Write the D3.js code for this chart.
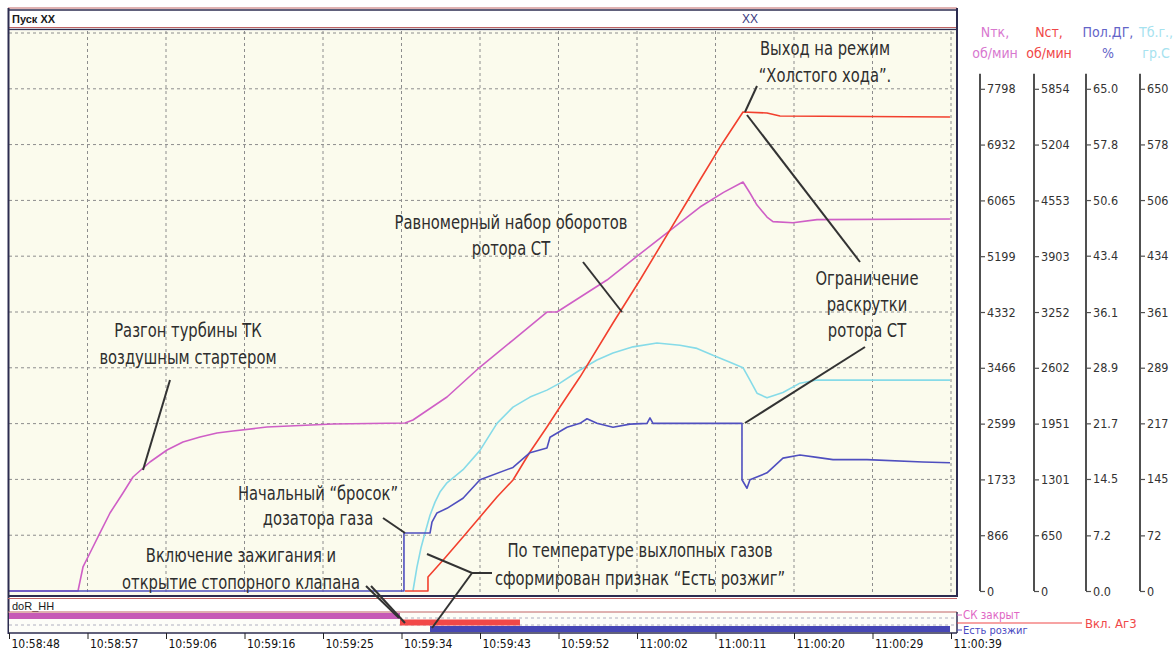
<!DOCTYPE html>
<html><head><meta charset="utf-8">
<script src="https://cdn.jsdelivr.net/npm/d3@7"></script>
<style>
body{margin:0;background:#fff;}
svg{display:block;}
.ann{font-family:"DejaVu Sans Condensed","Liberation Sans Narrow",sans-serif;font-size:20px;fill:#2e2e2e;}
.nar{font-family:"DejaVu Sans Condensed","Liberation Sans Narrow",sans-serif;}
</style></head><body><svg id="c" width="1175" height="651"></svg>
<script>
// ---------- DATA ----------
const timeLabels = ["10:58:48","10:58:57","10:59:06","10:59:16","10:59:25","10:59:34","10:59:43","10:59:52","11:00:02","11:00:11","11:00:20","11:00:29","11:00:39"];
const tMax = 111; // seconds shown

const ntkTicks = [0,866,1733,2599,3466,4332,5199,6065,6932,7798];
const nstTicks = [0,650,1301,1951,2602,3252,3903,4553,5204,5854];
const polTicks = [0,7.2,14.5,21.7,28.9,36.1,43.4,50.6,57.8,65.0];
const tbgTicks = [0,72,145,217,289,361,434,506,578,650];

// Nтк, об/мин (magenta)
const ntkTime  = [0,8.13,8.72,9.54,10.72,11.90,13.43,14.61,16.61,18.62,20.50,22.51,24.51,26.39,30.40,38.18,46.66,47.60,51.61,55.50,59.39,63.39,64.57,70.46,75.53,81.42,84.20,86.49,87.31,88.14,89.32,90.02,92.38,95.21,110.88];
const ntkValues= [0,0,373,590,901,1211,1522,1770,2003,2189,2314,2391,2453,2484,2546,2593,2608,2655,3012,3478,3897,4332,4332,4829,5357,5962,6190,6351,6180,5993,5807,5735,5719,5766,5776];

// Nст, об/мин (red)
const nstTime  = [46.66,49.37,49.37,51.37,53.50,55.50,57.50,59.39,61.39,63.39,64.92,67.28,71.17,74.35,81.42,83.78,86.49,89.32,90.85,110.88];
const nstValues= [0,0,163,385,629,863,1096,1294,1620,1912,2145,2494,3124,3625,4791,5175,5583,5572,5537,5525];

// Пол.ДГ, % (blue)
const polTime  = [0,46.54,46.54,49.61,49.84,50.43,51.61,53.50,55.50,59.39,61.39,63.39,63.75,65.75,67.28,68.11,69.28,71.17,73.17,75.18,75.53,75.88,86.37,86.37,86.96,87.31,89.32,91.20,93.20,95.21,97.09,101.10,107.70,110.88];
const polValues= [0,0,7.5,7.5,8.9,10.1,10.7,12.0,14.4,16.0,17.9,18.5,19.9,21.2,21.7,22.3,21.7,21.2,21.6,21.7,22.4,21.7,21.7,14.4,13.3,14.4,15.3,17.2,17.6,17.3,17.0,17.0,16.7,16.6];

// Тб.г., гр.С (cyan)
const tbgTime  = [47.60,48.07,48.55,49.02,49.61,50.20,50.78,51.61,53.50,55.50,57.50,59.39,61.39,63.39,64.92,67.28,69.28,71.17,73.53,76.35,79.06,81.07,82.95,84.96,86.49,87.31,88.14,89.32,91.20,93.20,95.21,110.88];
const tbgValues= [0,31,56,75,98,115,128,140,157,182,217,238,251,260,269,286,299,308,316,321,318,314,305,296,289,273,256,250,257,269,273,273];

// discrete signals (start, end in seconds)
const skClosed  = [0, 46.07];      // СК закрыт
const ag3On     = [46.07, 60.21];  // Вкл. Аг3
const ignition  = [49.61, 110.88]; // Есть розжиг

// ---------- DRAW ----------
const svg = d3.select("#c");
const x = d3.scaleLinear().domain([0, tMax]).range([9, 951]);
const yR = [591, 33];
const yNtk = d3.scaleLinear().domain([0, ntkTicks[9]*10/9]).range(yR);
const yNst = d3.scaleLinear().domain([0, nstTicks[9]*10/9]).range(yR);
const yPol = d3.scaleLinear().domain([0, polTicks[9]*10/9]).range(yR);
const yTbg = d3.scaleLinear().domain([0, tbgTicks[9]*10/9]).range(yR);
const xTicks = d3.range(timeLabels.length).map(i => i*tMax/(timeLabels.length-1));

const navy = "#2c2c50", rline = "#c06464";

// header
svg.append("rect").attr("x",8).attr("y",9).attr("width",949).attr("height",20).attr("fill","#fff");
svg.append("line").attr("x1",8).attr("x2",957).attr("y1",8).attr("y2",8).attr("stroke",rline).attr("stroke-width",1);
svg.append("line").attr("x1",8).attr("x2",957).attr("y1",10).attr("y2",10).attr("stroke",navy).attr("stroke-width",1.5);
svg.append("line").attr("x1",8).attr("x2",957).attr("y1",27.5).attr("y2",27.5).attr("stroke",rline).attr("stroke-width",1);
svg.append("line").attr("x1",8).attr("x2",957).attr("y1",29.5).attr("y2",29.5).attr("stroke",navy).attr("stroke-width",1.5);
svg.append("text").attr("x",12).attr("y",23).attr("font-family","Liberation Sans, Arial, sans-serif")
  .attr("font-size",11).attr("font-weight","bold").attr("fill","#1a1a1a").text("Пуск XX");
svg.append("text").attr("x",742).attr("y",23).attr("font-family","Liberation Sans, Arial, sans-serif")
  .attr("font-size",12).attr("fill","#3a3a80").text("XX");

// plot background
svg.append("rect").attr("x",9).attr("y",30.5).attr("width",948).attr("height",565).attr("fill","#fbfbed");

// grid
const grid = svg.append("g").attr("stroke","#8d8d8d").attr("stroke-width",1).attr("stroke-dasharray","3,3");
xTicks.slice(1).forEach(t => grid.append("line").attr("x1",x(t)).attr("x2",x(t)).attr("y1",31).attr("y2",593));
const hg = ntkTicks.slice(1).concat([ntkTicks[9]*10/9]);
hg.forEach(v => grid.append("line").attr("x1",9).attr("x2",955).attr("y1",yNtk(v)).attr("y2",yNtk(v)));

// series
const series = [
  {t:ntkTime, v:ntkValues, y:yNtk, c:"#cf5fc6"},
  {t:tbgTime, v:tbgValues, y:yTbg, c:"#86dbe8"},
  {t:nstTime, v:nstValues, y:yNst, c:"#f2402e"},
  {t:polTime, v:polValues, y:yPol, c:"#4f4fbf"}
];
series.forEach(s => {
  const pts = s.t.map((t,i) => [t, s.v[i]]);
  svg.append("path").datum(pts)
    .attr("d", d3.line().x(d => x(d[0])).y(d => s.y(d[1])))
    .attr("fill","none").attr("stroke",s.c).attr("stroke-width",1.6).attr("stroke-linejoin","round");
});

// frame
svg.append("line").attr("x1",8.5).attr("x2",8.5).attr("y1",8).attr("y2",634).attr("stroke",navy).attr("stroke-width",2);
svg.append("line").attr("x1",957).attr("x2",957).attr("y1",8).attr("y2",597).attr("stroke",navy).attr("stroke-width",2);
svg.append("line").attr("x1",8).attr("x2",957).attr("y1",596).attr("y2",596).attr("stroke",navy).attr("stroke-width",2);
svg.append("line").attr("x1",8).attr("x2",957).attr("y1",598.5).attr("y2",598.5).attr("stroke",rline).attr("stroke-width",1);

// discrete panel
svg.append("text").attr("x",12).attr("y",610).attr("font-family","Liberation Sans, Arial, sans-serif")
  .attr("font-size",11).attr("fill","#1a1a1a").text("doR_HH");
svg.append("rect").attr("x",9).attr("y",612).attr("width",948).attr("height",21).attr("fill","#fdfdf8");
svg.append("line").attr("x1",8).attr("x2",957).attr("y1",612).attr("y2",612).attr("stroke",rline).attr("stroke-width",1.2);
svg.append("line").attr("x1",8).attr("x2",957).attr("y1",633).attr("y2",633).attr("stroke",navy).attr("stroke-width",1.5);
svg.append("line").attr("x1",957).attr("x2",957).attr("y1",612).attr("y2",633).attr("stroke",navy).attr("stroke-width",1.5);
[618, 625].forEach(yy => svg.append("line").attr("x1",9).attr("x2",955).attr("y1",yy).attr("y2",yy)
  .attr("stroke","#b0b0c0").attr("stroke-dasharray","3,3"));
svg.append("rect").attr("x",x(skClosed[0])).attr("y",613).attr("width",x(skClosed[1])-x(skClosed[0])).attr("height",6).attr("fill","#c65ab6");
svg.append("rect").attr("x",x(ag3On[0])).attr("y",619.5).attr("width",x(ag3On[1])-x(ag3On[0])).attr("height",6).attr("fill","#f24848");
svg.append("rect").attr("x",x(ignition[0])).attr("y",626).attr("width",x(ignition[1])-x(ignition[0])).attr("height",6).attr("fill","#4747b5");

// signal legend
svg.append("line").attr("x1",957).attr("x2",962).attr("y1",615).attr("y2",615).attr("stroke","#e060c0");
svg.append("text").attr("class","nar").attr("x",963).attr("y",619).attr("font-size",11.5).attr("fill","#e066c4").text("СК закрыт");
svg.append("line").attr("x1",957).attr("x2",962).attr("y1",630).attr("y2",630).attr("stroke","#4848c0");
svg.append("text").attr("class","nar").attr("x",963).attr("y",633.5).attr("font-size",11).attr("fill","#4a4ac2").text("Есть розжиг");
svg.append("line").attr("x1",957).attr("x2",1082).attr("y1",623).attr("y2",623).attr("stroke","#f04848").attr("stroke-width",1.2);
svg.append("text").attr("class","nar").attr("x",1085).attr("y",628).attr("font-size",13).attr("fill","#f04848").text("Вкл. Аг3");

// time axis
const xAxis = d3.axisBottom(x).tickValues(xTicks).tickFormat((d,i) => timeLabels[i]).tickSize(6).tickSizeOuter(0);
const gx = svg.append("g").attr("transform","translate(0,633)").call(xAxis);
gx.select(".domain").remove();
gx.selectAll(".tick line").attr("stroke","#222");
gx.selectAll(".tick text").attr("class","nar").attr("font-size",12).attr("fill","#111")
  .attr("text-anchor","start").attr("dx",2).attr("y",6).attr("dy","0.71em");

// right axes
const axes = [
  {s:yNtk, ticks:ntkTicks, x:980, cx:995, t:["Nтк,","об/мин"], c:"#d878cf", f:d3.format("d")},
  {s:yNst, ticks:nstTicks, x:1034, cx:1049, t:["Nст,","об/мин"], c:"#f04848", f:d3.format("d")},
  {s:yPol, ticks:polTicks, x:1086, cx:1108, t:["Пол.ДГ,","%"], c:"#6464c8", f:d3.format(".1f")},
  {s:yTbg, ticks:tbgTicks, x:1140, cx:1156, t:["Тб.г.,","гр.С"], c:"#a6e2ef", f:d3.format("d")}
];
axes.forEach(a => {
  const g = svg.append("g").attr("transform",`translate(${a.x},0)`)
    .call(d3.axisRight(a.s).tickValues(a.ticks).tickFormat(a.f).tickSize(5).tickSizeOuter(0));
  g.select(".domain").remove();
  g.append("line").attr("x1",0).attr("x2",0).attr("y1",a.s(a.ticks[9])-15).attr("y2",a.s(0))
    .attr("stroke","#505050").attr("stroke-width",2);
  g.selectAll(".tick line").attr("stroke","#505050").attr("stroke-width",1.2);
  g.selectAll(".tick text").attr("class","nar").attr("font-size",12.5).attr("fill","#333").attr("x",7);
  a.t.forEach((tx,i) => svg.append("text").attr("class","nar").attr("x",a.cx).attr("y",37+i*21)
    .attr("text-anchor","middle").attr("font-size",14).attr("fill",a.c).text(tx));
});

// annotations
const ann = svg.append("g");
function label(lines, cx, cy, dy){
  lines.forEach((s,i) => ann.append("text").attr("class","ann")
    .attr("transform",`translate(${cx},${cy+i*dy+7}) scale(0.82,1)`)
    .attr("text-anchor","middle").text(s));
}
function lead(pts){
  ann.append("path").attr("d", d3.line()(pts)).attr("fill","none").attr("stroke","#333").attr("stroke-width",2);
}
label(["Разгон турбины ТК","воздушным стартером"], 188, 330, 27);
lead([[170,380],[143,470]]);
label(["Равномерный набор оборотов","ротора СТ"], 511, 222, 26);
lead([[583,262],[622,312]]);
label(["Выход на режим","“Холстого хода”."], 825, 48, 27);
lead([[757,86],[745,112]]);
label(["Ограничение","раскрутки","ротора СТ"], 867, 278, 26);
lead([[747,115],[860,262]]);
lead([[865,347],[745,423]]);
label(["Начальный “бросок”","дозатора газа"], 318, 493, 25);
lead([[383,518],[405,533]]);
label(["Включение зажигания и","открытие стопорного клапана"], 241, 555, 27);
lead([[366,586],[399,618]]);
lead([[371,586],[405,623]]);
label(["По температуре выхлопных газов","сформирован признак “Есть розжиг”"], 640, 550, 28);
lead([[427,554],[472,573],[492,573]]);
lead([[472,573],[432,628]]);
</script></body></html>
